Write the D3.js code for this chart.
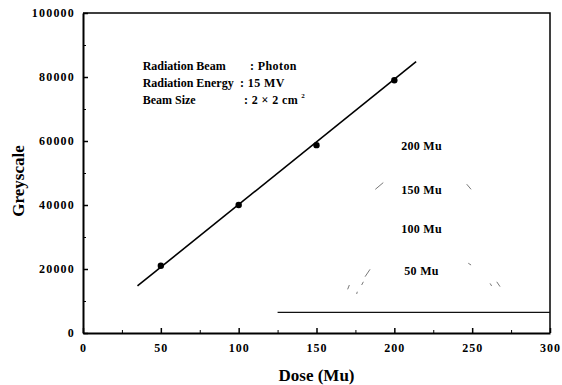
<!DOCTYPE html>
<html>
<head>
<meta charset="utf-8">
<script src="https://cdn.jsdelivr.net/npm/d3@7"></script>
<style>
  body { margin: 0; background: #fff; }
  svg text { font-family: "Liberation Serif", "Times New Roman", serif; font-weight: bold; fill: #000; }
</style>
</head>
<body>
<script>
// measured dose points and fitted line ends
const doses = [50, 100, 150, 200];
const greys = [21000, 40000, 58700, 79000];
const fitDose = [35, 214];
const fitGrey = [14700, 84800];

const xTicks = [0, 50, 100, 150, 200, 250, 300];
const xMinor = [25, 75, 125, 175, 225, 275];
const yTicks = [0, 20000, 40000, 60000, 80000, 100000];
const yMinor = [10000, 30000, 50000, 70000, 90000];

const infoLabels = ["Radiation Beam", "Radiation Energy", "Beam Size"];
const infoValues = [": Photon", ": 15 MV", ": 2 \u00d7 2 cm"];

// film inset labels and baseline
const filmLabels = ["200 Mu", "150 Mu", "100 Mu", "50 Mu"];
const filmLabelY = [57200, 43300, 31150, 18100];
const filmLine = [[125, 6450], [300, 6450]];
// faint strokes visible on the film scan
const filmStrokes = [
  [[187.8, 44900], [192.9, 47000]], [[246.5, 46500], [249.3, 44900]],
  [[184.4, 19900], [181.2, 17600]], [[180.1, 16000], [179.0, 15000]],
  [[171.1, 15000], [170.0, 13650]], [[176.2, 12900], [175.8, 12200]],
  [[247.5, 21800], [249.3, 21250]], [[265.8, 16000], [267.9, 14500]],
  [[261.5, 15500], [262.5, 14700]]
];

const width = 562, height = 385;
const margin = { top: 13, right: 12, bottom: 52, left: 83 };
const serif = "Liberation Serif, Times New Roman, serif";

const svg = d3.select("body").append("svg")
  .attr("width", width)
  .attr("height", height)
  .attr("font-family", serif);

const x = d3.scaleLinear().domain([0, 300]).range([margin.left, width - margin.right]);
const y = d3.scaleLinear().domain([0, 100000]).range([height - margin.bottom, margin.top]);

// frame (top + right)
svg.append("path")
  .attr("d", `M${x(0)},${y(100000)}H${x(300)}V${y(0)}`)
  .attr("fill", "none").attr("stroke", "#000").attr("stroke-width", 1.5);

// x axis, ticks inward
const xAxis = svg.append("g").attr("transform", `translate(0,${y(0)})`)
  .call(d3.axisBottom(x).tickValues(xTicks).tickSizeInner(-5).tickSizeOuter(0).tickPadding(10))
  .attr("font-family", serif);
xAxis.select(".domain").attr("stroke-width", 2);
xAxis.selectAll("line").attr("stroke-width", 1.5);
xAxis.selectAll("text").attr("font-size", 12).attr("letter-spacing", 1);
svg.append("g").attr("transform", `translate(0,${y(0)})`)
  .call(d3.axisBottom(x).tickValues(xMinor).tickSizeInner(-3).tickSizeOuter(0).tickFormat(""))
  .call(g => g.select(".domain").remove());

// y axis
const yAxis = svg.append("g").attr("transform", `translate(${x(0)},0)`)
  .call(d3.axisLeft(y).tickValues(yTicks).tickSizeInner(-5).tickSizeOuter(0).tickPadding(8).tickFormat(d3.format("d")))
  .attr("font-family", serif);
yAxis.select(".domain").attr("stroke-width", 2);
yAxis.selectAll("line").attr("stroke-width", 1.5);
yAxis.selectAll("text").attr("font-size", 12).attr("letter-spacing", 1.2);
svg.append("g").attr("transform", `translate(${x(0)},0)`)
  .call(d3.axisLeft(y).tickValues(yMinor).tickSizeInner(-3).tickSizeOuter(0).tickFormat(""))
  .call(g => g.select(".domain").remove());

// axis titles
svg.append("text")
  .attr("x", x(150)).attr("y", 381)
  .attr("text-anchor", "middle").attr("font-size", 17)
  .text("Dose (Mu)");
svg.append("text")
  .attr("transform", `translate(24,${y(47500)}) rotate(-90)`)
  .attr("text-anchor", "middle").attr("font-size", 17)
  .text("Greyscale");

// info block
const info = svg.append("g");
const infoBase = [70, 87, 104];
const valueX = [250, 240, 244];
infoLabels.forEach((t, i) => {
  info.append("text").attr("x", 142.7).attr("y", infoBase[i])
    .attr("font-size", 12).text(t);
  const v = info.append("text").attr("x", valueX[i]).attr("y", infoBase[i])
    .attr("font-size", 12).attr("letter-spacing", 0.4).text(infoValues[i]);
  if (i === 2) v.append("tspan").attr("dy", -6).attr("dx", 3).attr("font-size", 7).text("2");
});

// film inset
const line = d3.line().x(d => x(d[0])).y(d => y(d[1]));
svg.append("path").attr("d", line(filmLine))
  .attr("fill", "none").attr("stroke", "#111").attr("stroke-width", 1.2);
svg.append("g").selectAll("path").data(filmStrokes).join("path")
  .attr("d", line).attr("fill", "none").attr("stroke", "#555").attr("stroke-width", 0.8);
svg.append("g").selectAll("text").data(filmLabels).join("text")
  .attr("x", x(217.5)).attr("y", (d, i) => y(filmLabelY[i]))
  .attr("text-anchor", "middle").attr("font-size", 12).attr("letter-spacing", 0.3)
  .text(d => d);

// fitted line
svg.append("path")
  .datum(fitDose.map((d, i) => [d, fitGrey[i]]))
  .attr("d", line)
  .attr("fill", "none").attr("stroke", "#000").attr("stroke-width", 1.6);

// data points
svg.append("g").selectAll("circle").data(doses).join("circle")
  .attr("cx", d => x(d)).attr("cy", (d, i) => y(greys[i]))
  .attr("r", 3.2).attr("fill", "#000");
</script>
</body>
</html>
